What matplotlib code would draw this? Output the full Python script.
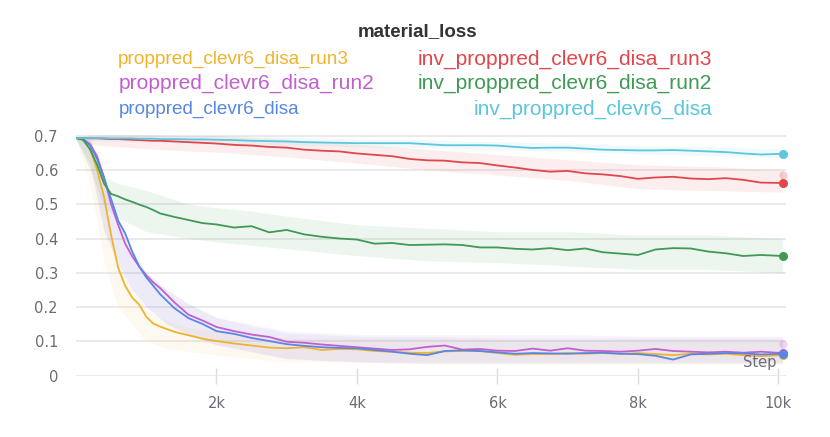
import numpy as np
import matplotlib
matplotlib.use("Agg")
import matplotlib.pyplot as plt

# ---------------- data ----------------
steps = [0, 100, 200, 300, 400, 500, 600, 700, 800, 900, 1000, 1100, 1200, 1400, 1600, 1800,
         2000, 2250, 2500, 2750, 3000, 3250, 3500, 3750, 4000, 4250, 4500, 4750, 5000, 5250,
         5500, 5750, 6000, 6250, 6500, 6750, 7000, 7250, 7500, 7750, 8000, 8250, 8500, 8750,
         9000, 9250, 9500, 9750, 10060]

run3 = [0.693, 0.688, 0.662, 0.600, 0.520, 0.410, 0.315, 0.262, 0.228, 0.207, 0.172, 0.152, 0.143,
        0.128, 0.118, 0.108, 0.101, 0.094, 0.088, 0.082, 0.080, 0.083, 0.075, 0.078, 0.077, 0.072,
        0.070, 0.067, 0.066, 0.071, 0.072, 0.072, 0.066, 0.061, 0.063, 0.063, 0.066, 0.064, 0.066,
        0.064, 0.066, 0.063, 0.060, 0.064, 0.062, 0.064, 0.060, 0.057, 0.060]

run2 = [0.693, 0.690, 0.675, 0.640, 0.578, 0.500, 0.440, 0.385, 0.348, 0.318, 0.293, 0.272, 0.255,
        0.214, 0.178, 0.161, 0.142, 0.130, 0.120, 0.113, 0.099, 0.096, 0.091, 0.087, 0.083, 0.079,
        0.075, 0.077, 0.084, 0.088, 0.076, 0.078, 0.073, 0.072, 0.079, 0.073, 0.080, 0.073, 0.072,
        0.070, 0.073, 0.078, 0.072, 0.070, 0.068, 0.070, 0.067, 0.070, 0.066]

base = [0.693, 0.690, 0.672, 0.632, 0.575, 0.515, 0.452, 0.415, 0.362, 0.318, 0.287, 0.262, 0.237,
        0.197, 0.168, 0.151, 0.130, 0.122, 0.110, 0.101, 0.092, 0.087, 0.083, 0.081, 0.080, 0.075,
        0.070, 0.064, 0.060, 0.072, 0.074, 0.072, 0.068, 0.064, 0.066, 0.065, 0.064, 0.066, 0.067,
        0.064, 0.063, 0.058, 0.047, 0.062, 0.064, 0.066, 0.065, 0.062, 0.064]

inv_run3 = [0.693, 0.693, 0.692, 0.692, 0.691, 0.690, 0.690, 0.689, 0.688, 0.687, 0.686, 0.685,
            0.685, 0.683, 0.681, 0.679, 0.677, 0.673, 0.671, 0.667, 0.665, 0.659, 0.656, 0.654,
            0.648, 0.644, 0.640, 0.632, 0.628, 0.627, 0.622, 0.620, 0.613, 0.607, 0.600, 0.595,
            0.597, 0.590, 0.587, 0.582, 0.574, 0.578, 0.580, 0.575, 0.573, 0.576, 0.571, 0.563,
            0.562]

inv_run2 = [0.693, 0.688, 0.660, 0.615, 0.560, 0.530, 0.523, 0.514, 0.507, 0.499, 0.492, 0.483,
            0.473, 0.463, 0.454, 0.445, 0.441, 0.432, 0.436, 0.418, 0.425, 0.412, 0.405, 0.400,
            0.397, 0.385, 0.387, 0.381, 0.382, 0.383, 0.381, 0.374, 0.374, 0.370, 0.368, 0.372,
            0.366, 0.371, 0.360, 0.356, 0.352, 0.368, 0.372, 0.371, 0.362, 0.357, 0.349, 0.352,
            0.349]

inv_base = [0.693, 0.693, 0.693, 0.693, 0.693, 0.692, 0.692, 0.692, 0.692, 0.691, 0.691, 0.691,
            0.690, 0.690, 0.689, 0.689, 0.688, 0.687, 0.685, 0.684, 0.683, 0.681, 0.680, 0.679,
            0.678, 0.678, 0.678, 0.678, 0.675, 0.672, 0.672, 0.672, 0.671, 0.667, 0.664, 0.665,
            0.665, 0.662, 0.659, 0.658, 0.657, 0.657, 0.658, 0.656, 0.654, 0.652, 0.648, 0.645,
            0.647]

# raw (unsmoothed) value ranges
raw_steps = [0, 200, 400, 600, 800, 1000, 1300, 1600, 2000, 2500, 3000, 4000, 5000, 6000,
             7000, 8000, 9000, 10060]
run3_lo = [0.690, 0.560, 0.330, 0.200, 0.150, 0.100, 0.080, 0.070, 0.060, 0.050, 0.040, 0.040,
           0.035, 0.035, 0.035, 0.035, 0.035, 0.035]
run3_hi = [0.695, 0.690, 0.500, 0.320, 0.250, 0.190, 0.160, 0.140, 0.130, 0.120, 0.110, 0.110,
           0.110, 0.105, 0.105, 0.105, 0.105, 0.105]
run2_lo = [0.690, 0.620, 0.420, 0.320, 0.250, 0.200, 0.150, 0.120, 0.090, 0.070, 0.050, 0.040,
           0.040, 0.040, 0.040, 0.040, 0.040, 0.040]
run2_hi = [0.695, 0.690, 0.580, 0.450, 0.360, 0.300, 0.250, 0.210, 0.170, 0.150, 0.130, 0.120,
           0.120, 0.120, 0.120, 0.115, 0.115, 0.115]
base_lo = [0.690, 0.610, 0.420, 0.330, 0.250, 0.200, 0.150, 0.120, 0.090, 0.070, 0.050, 0.040,
           0.035, 0.035, 0.035, 0.035, 0.035, 0.035]
base_hi = [0.695, 0.690, 0.580, 0.460, 0.370, 0.300, 0.250, 0.210, 0.170, 0.145, 0.125, 0.115,
           0.115, 0.110, 0.110, 0.110, 0.110, 0.110]
inv_run3_lo = [0.688, 0.675, 0.670, 0.668, 0.665, 0.662, 0.658, 0.655, 0.652, 0.645, 0.638, 0.620,
               0.600, 0.585, 0.570, 0.545, 0.540, 0.535]
inv_run3_hi = [0.697, 0.700, 0.702, 0.702, 0.702, 0.702, 0.700, 0.700, 0.700, 0.695, 0.690, 0.675,
               0.660, 0.645, 0.630, 0.615, 0.610, 0.600]
inv_run2_lo = [0.690, 0.600, 0.490, 0.460, 0.440, 0.420, 0.410, 0.400, 0.390, 0.380, 0.370, 0.350,
               0.335, 0.330, 0.320, 0.310, 0.310, 0.300]
inv_run2_hi = [0.695, 0.680, 0.580, 0.560, 0.550, 0.540, 0.520, 0.500, 0.490, 0.480, 0.465, 0.440,
               0.430, 0.420, 0.420, 0.410, 0.410, 0.400]
inv_base_lo = [0.688, 0.685, 0.684, 0.683, 0.682, 0.681, 0.680, 0.679, 0.677, 0.674, 0.672, 0.667,
               0.664, 0.660, 0.654, 0.646, 0.642, 0.635]
inv_base_hi = [0.697, 0.702, 0.702, 0.702, 0.702, 0.701, 0.701, 0.700, 0.700, 0.698, 0.696, 0.690,
               0.688, 0.682, 0.678, 0.670, 0.668, 0.660]

raw_last = {"inv_proppred_clevr6_disa_run3": 0.585, "proppred_clevr6_disa_run2": 0.092}

names = ["proppred_clevr6_disa_run3", "proppred_clevr6_disa_run2", "proppred_clevr6_disa",
         "inv_proppred_clevr6_disa_run3", "inv_proppred_clevr6_disa_run2", "inv_proppred_clevr6_disa"]
colors = ["#f0b32c", "#c25fd0", "#5787e5", "#e0474c", "#3f9a55", "#5cc6de"]
smooth = [run3, run2, base, inv_run3, inv_run2, inv_base]
raw_lo = [run3_lo, run2_lo, base_lo, inv_run3_lo, inv_run2_lo, inv_base_lo]
raw_hi = [run3_hi, run2_hi, base_hi, inv_run3_hi, inv_run2_hi, inv_base_hi]

xticks = [2000, 4000, 6000, 8000, 10000]
xticklabels = ["2k", "4k", "6k", "8k", "10k"]
yticks = [0, 0.1, 0.2, 0.3, 0.4, 0.5, 0.6, 0.7]
yticklabels = ["0", "0.1", "0.2", "0.3", "0.4", "0.5", "0.6", "0.7"]

# ---------------- figure ----------------
W, H = 830, 437
fig = plt.figure(figsize=(W / 100, H / 100), dpi=100)
ax = fig.add_axes([76 / W, 1 - 375.7 / H, 709.5 / W, 243.5 / H])

tick_gray = "#6c6c76"
band_alpha = [0.07, 0.07, 0.07, 0.09, 0.09, 0.09]

draw_order = [4, 3, 5, 0, 1, 2]
for i in draw_order:
    ax.fill_between(raw_steps, raw_lo[i], raw_hi[i], color=colors[i], alpha=band_alpha[i],
                    linewidth=0, zorder=1)
for i in draw_order:
    ax.plot(steps, smooth[i], color=colors[i], lw=1.3, zorder=3 + i * 0.1,
            solid_joinstyle="round")
    ax.plot([steps[-1]], [smooth[i][-1]], "o", color=colors[i], ms=6.5, mec="none",
            zorder=4 + i * 0.1, clip_on=False)
for i, n in enumerate(names):
    if n in raw_last:
        ax.plot([steps[-1]], [raw_last[n]], "o", color=colors[i], alpha=0.25, ms=6,
                mec="none", zorder=2, clip_on=False)

ax.set_xlim(0, 10100)
ax.set_ylim(0, 0.71)
for s in ax.spines.values():
    s.set_visible(False)
ax.set_yticks(yticks)
ax.set_yticklabels(yticklabels)
ax.set_xticks(xticks)
ax.set_xticklabels(xticklabels)
ax.grid(axis="y", color="#e6e6e6", lw=1.2, zorder=0)
ax.set_axisbelow(True)
ax.tick_params(axis="y", length=0, pad=13, labelsize=10.5, labelcolor=tick_gray)
ax.tick_params(axis="x", direction="inout", length=11, width=1, color="#dcdcdc", pad=9,
               labelsize=10.5, labelcolor=tick_gray)
ax.text(0.987, 0.056, "Step", transform=ax.transAxes, ha="right", va="center",
        fontsize=10.5, color=tick_gray, zorder=6)

# legend / title as figure text
fig.text(418 / W, 1 - 32 / H, "material_loss", ha="center", va="center",
         fontsize=13.5, fontweight="bold", color="#333333", family="Liberation Sans")
left_rows = [0, 1, 2]
right_rows = [3, 4, 5]
row_y = [59.3, 83.3, 109.0]
left_sizes = [13.7, 15.1, 13.6]
right_sizes = [15.15, 15.15, 15.05]
for r, i in enumerate(left_rows):
    fig.text(118.3 / W, 1 - row_y[r] / H, names[i], ha="left", va="center",
             fontsize=left_sizes[r], color=colors[i], family="Liberation Sans")
for r, i in enumerate(right_rows):
    fig.text(712 / W, 1 - row_y[r] / H, names[i], ha="right", va="center",
             fontsize=right_sizes[r], color=colors[i], family="Liberation Sans")

fig.savefig("out.png", dpi=100)
